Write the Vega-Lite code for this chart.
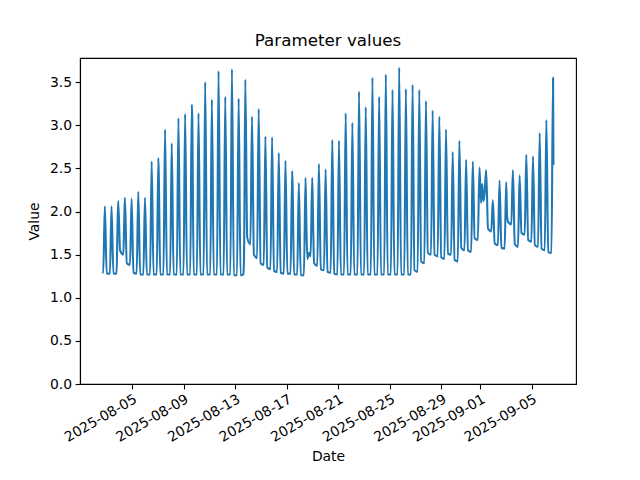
{
  "$schema": "https://vega.github.io/schema/vega-lite/v6.json",
  "width": 496,
  "height": 326,
  "autosize": {"type": "none"},
  "padding": {"left": 80, "top": 58, "right": 64, "bottom": 96},
  "background": "white",
  "title": {"text": "Parameter values", "fontSize": 16.7, "font": "DejaVu Sans", "fontWeight": "normal", "color": "black", "anchor": "middle", "offset": 8},
  "data": {"values": [
    {"date":"2025-08-02T17:20","value":1.30},
    {"date":"2025-08-02T18:36","value":1.29},
    {"date":"2025-08-02T21:36","value":2.06},
    {"date":"2025-08-03T01:06","value":1.28},
    {"date":"2025-08-03T07:03","value":1.28},
    {"date":"2025-08-03T10:03","value":2.06},
    {"date":"2025-08-03T13:33","value":1.28},
    {"date":"2025-08-03T19:30","value":1.28},
    {"date":"2025-08-03T21:00","value":1.76},
    {"date":"2025-08-03T22:30","value":2.12},
    {"date":"2025-08-04T02:00","value":1.55},
    {"date":"2025-08-04T07:57","value":1.50},
    {"date":"2025-08-04T09:27","value":1.82},
    {"date":"2025-08-04T10:57","value":2.16},
    {"date":"2025-08-04T14:27","value":1.40},
    {"date":"2025-08-04T20:24","value":1.38},
    {"date":"2025-08-04T23:24","value":2.15},
    {"date":"2025-08-05T02:54","value":1.29},
    {"date":"2025-08-05T08:51","value":1.28},
    {"date":"2025-08-05T11:51","value":2.23},
    {"date":"2025-08-05T15:21","value":1.27},
    {"date":"2025-08-05T21:18","value":1.27},
    {"date":"2025-08-06T00:18","value":2.16},
    {"date":"2025-08-06T03:48","value":1.27},
    {"date":"2025-08-06T09:45","value":1.27},
    {"date":"2025-08-06T12:45","value":2.58},
    {"date":"2025-08-06T16:15","value":1.27},
    {"date":"2025-08-06T22:12","value":1.27},
    {"date":"2025-08-07T01:12","value":2.62},
    {"date":"2025-08-07T02:12","value":2.35},
    {"date":"2025-08-07T04:42","value":1.27},
    {"date":"2025-08-07T10:39","value":1.27},
    {"date":"2025-08-07T13:39","value":2.95},
    {"date":"2025-08-07T17:09","value":1.27},
    {"date":"2025-08-07T23:06","value":1.27},
    {"date":"2025-08-08T02:06","value":2.79},
    {"date":"2025-08-08T05:36","value":1.27},
    {"date":"2025-08-08T11:33","value":1.27},
    {"date":"2025-08-08T14:33","value":3.08},
    {"date":"2025-08-08T18:03","value":1.27},
    {"date":"2025-08-09T00:00","value":1.27},
    {"date":"2025-08-09T03:00","value":3.13},
    {"date":"2025-08-09T06:30","value":1.27},
    {"date":"2025-08-09T12:27","value":1.27},
    {"date":"2025-08-09T15:27","value":3.24},
    {"date":"2025-08-09T16:15","value":3.10},
    {"date":"2025-08-09T18:57","value":1.27},
    {"date":"2025-08-10T00:54","value":1.27},
    {"date":"2025-08-10T03:54","value":3.14},
    {"date":"2025-08-10T07:24","value":1.27},
    {"date":"2025-08-10T13:21","value":1.27},
    {"date":"2025-08-10T16:21","value":3.50},
    {"date":"2025-08-10T19:51","value":1.27},
    {"date":"2025-08-11T01:48","value":1.27},
    {"date":"2025-08-11T04:48","value":3.30},
    {"date":"2025-08-11T08:18","value":1.27},
    {"date":"2025-08-11T14:15","value":1.27},
    {"date":"2025-08-11T17:15","value":3.63},
    {"date":"2025-08-11T20:45","value":1.27},
    {"date":"2025-08-12T02:42","value":1.27},
    {"date":"2025-08-12T05:42","value":3.33},
    {"date":"2025-08-12T09:12","value":1.27},
    {"date":"2025-08-12T15:09","value":1.27},
    {"date":"2025-08-12T18:09","value":3.65},
    {"date":"2025-08-12T21:39","value":1.26},
    {"date":"2025-08-13T03:36","value":1.26},
    {"date":"2025-08-13T06:36","value":3.31},
    {"date":"2025-08-13T10:06","value":1.26},
    {"date":"2025-08-13T15:30","value":1.27},
    {"date":"2025-08-13T16:40","value":1.48},
    {"date":"2025-08-13T19:03","value":3.53},
    {"date":"2025-08-13T22:33","value":1.70},
    {"date":"2025-08-14T04:30","value":1.62},
    {"date":"2025-08-14T07:30","value":3.10},
    {"date":"2025-08-14T11:00","value":1.50},
    {"date":"2025-08-14T16:57","value":1.46},
    {"date":"2025-08-14T19:57","value":3.19},
    {"date":"2025-08-14T23:27","value":1.40},
    {"date":"2025-08-15T05:24","value":1.38},
    {"date":"2025-08-15T08:24","value":2.87},
    {"date":"2025-08-15T11:54","value":1.35},
    {"date":"2025-08-15T17:51","value":1.33},
    {"date":"2025-08-15T20:51","value":2.86},
    {"date":"2025-08-16T00:21","value":1.31},
    {"date":"2025-08-16T06:18","value":1.30},
    {"date":"2025-08-16T09:18","value":2.68},
    {"date":"2025-08-16T12:48","value":1.29},
    {"date":"2025-08-16T18:45","value":1.28},
    {"date":"2025-08-16T21:45","value":2.59},
    {"date":"2025-08-17T01:15","value":1.28},
    {"date":"2025-08-17T07:12","value":1.28},
    {"date":"2025-08-17T10:12","value":2.47},
    {"date":"2025-08-17T11:12","value":2.25},
    {"date":"2025-08-17T13:42","value":1.27},
    {"date":"2025-08-17T19:39","value":1.27},
    {"date":"2025-08-17T22:39","value":2.33},
    {"date":"2025-08-18T02:09","value":1.26},
    {"date":"2025-08-18T08:06","value":1.26},
    {"date":"2025-08-18T11:06","value":2.39},
    {"date":"2025-08-18T12:36","value":1.88},
    {"date":"2025-08-18T14:36","value":1.45},
    {"date":"2025-08-18T17:30","value":1.52},
    {"date":"2025-08-18T20:33","value":1.48},
    {"date":"2025-08-18T23:33","value":2.39},
    {"date":"2025-08-19T01:03","value":1.92},
    {"date":"2025-08-19T03:03","value":1.40},
    {"date":"2025-08-19T09:00","value":1.37},
    {"date":"2025-08-19T12:00","value":2.55},
    {"date":"2025-08-19T15:30","value":1.33},
    {"date":"2025-08-19T21:27","value":1.32},
    {"date":"2025-08-20T00:27","value":2.49},
    {"date":"2025-08-20T03:57","value":1.30},
    {"date":"2025-08-20T09:54","value":1.29},
    {"date":"2025-08-20T12:54","value":2.83},
    {"date":"2025-08-20T16:24","value":1.28},
    {"date":"2025-08-20T22:21","value":1.27},
    {"date":"2025-08-21T01:21","value":2.82},
    {"date":"2025-08-21T04:51","value":1.27},
    {"date":"2025-08-21T10:48","value":1.27},
    {"date":"2025-08-21T13:48","value":3.14},
    {"date":"2025-08-21T17:18","value":1.27},
    {"date":"2025-08-21T23:15","value":1.27},
    {"date":"2025-08-22T02:15","value":3.03},
    {"date":"2025-08-22T05:45","value":1.27},
    {"date":"2025-08-22T11:42","value":1.27},
    {"date":"2025-08-22T14:42","value":3.39},
    {"date":"2025-08-22T18:12","value":1.27},
    {"date":"2025-08-23T00:09","value":1.27},
    {"date":"2025-08-23T03:09","value":3.21},
    {"date":"2025-08-23T06:39","value":1.27},
    {"date":"2025-08-23T12:36","value":1.27},
    {"date":"2025-08-23T15:36","value":3.55},
    {"date":"2025-08-23T19:06","value":1.27},
    {"date":"2025-08-24T01:03","value":1.27},
    {"date":"2025-08-24T04:03","value":3.33},
    {"date":"2025-08-24T07:33","value":1.27},
    {"date":"2025-08-24T13:30","value":1.27},
    {"date":"2025-08-24T16:30","value":3.59},
    {"date":"2025-08-24T20:00","value":1.27},
    {"date":"2025-08-25T01:57","value":1.27},
    {"date":"2025-08-25T04:57","value":3.41},
    {"date":"2025-08-25T08:27","value":1.27},
    {"date":"2025-08-25T14:24","value":1.27},
    {"date":"2025-08-25T17:24","value":3.67},
    {"date":"2025-08-25T20:54","value":1.27},
    {"date":"2025-08-26T02:51","value":1.27},
    {"date":"2025-08-26T05:51","value":3.42},
    {"date":"2025-08-26T09:21","value":1.27},
    {"date":"2025-08-26T15:18","value":1.27},
    {"date":"2025-08-26T18:18","value":3.47},
    {"date":"2025-08-26T21:48","value":1.32},
    {"date":"2025-08-27T03:45","value":1.30},
    {"date":"2025-08-27T06:45","value":3.41},
    {"date":"2025-08-27T10:15","value":1.42},
    {"date":"2025-08-27T16:12","value":1.40},
    {"date":"2025-08-27T19:12","value":3.28},
    {"date":"2025-08-27T22:42","value":1.52},
    {"date":"2025-08-28T04:39","value":1.50},
    {"date":"2025-08-28T07:39","value":3.17},
    {"date":"2025-08-28T11:09","value":1.50},
    {"date":"2025-08-28T17:06","value":1.48},
    {"date":"2025-08-28T20:06","value":3.10},
    {"date":"2025-08-28T23:36","value":1.47},
    {"date":"2025-08-29T05:33","value":1.45},
    {"date":"2025-08-29T08:33","value":2.95},
    {"date":"2025-08-29T12:03","value":1.51},
    {"date":"2025-08-29T18:00","value":1.50},
    {"date":"2025-08-29T21:00","value":2.69},
    {"date":"2025-08-30T00:30","value":1.44},
    {"date":"2025-08-30T06:27","value":1.42},
    {"date":"2025-08-30T09:27","value":2.82},
    {"date":"2025-08-30T12:57","value":1.58},
    {"date":"2025-08-30T18:54","value":1.55},
    {"date":"2025-08-30T21:54","value":2.60},
    {"date":"2025-08-31T01:24","value":1.55},
    {"date":"2025-08-31T07:21","value":1.53},
    {"date":"2025-08-31T10:21","value":2.58},
    {"date":"2025-08-31T13:51","value":1.69},
    {"date":"2025-08-31T19:48","value":1.67},
    {"date":"2025-08-31T22:48","value":2.51},
    {"date":"2025-09-01T01:48","value":2.10},
    {"date":"2025-09-01T04:00","value":2.32},
    {"date":"2025-09-01T06:00","value":2.12},
    {"date":"2025-09-01T08:15","value":2.20},
    {"date":"2025-09-01T11:15","value":2.48},
    {"date":"2025-09-01T14:45","value":1.80},
    {"date":"2025-09-01T20:42","value":1.77},
    {"date":"2025-09-01T23:42","value":2.13},
    {"date":"2025-09-02T03:12","value":1.63},
    {"date":"2025-09-02T09:09","value":1.61},
    {"date":"2025-09-02T12:09","value":2.36},
    {"date":"2025-09-02T15:39","value":1.58},
    {"date":"2025-09-02T21:36","value":1.57},
    {"date":"2025-09-03T00:36","value":2.34},
    {"date":"2025-09-03T02:06","value":1.96},
    {"date":"2025-09-03T04:06","value":1.88},
    {"date":"2025-09-03T10:03","value":1.85},
    {"date":"2025-09-03T13:03","value":2.48},
    {"date":"2025-09-03T16:33","value":1.62},
    {"date":"2025-09-03T22:30","value":1.59},
    {"date":"2025-09-04T01:30","value":2.42},
    {"date":"2025-09-04T05:00","value":1.75},
    {"date":"2025-09-04T10:57","value":1.73},
    {"date":"2025-09-04T13:57","value":2.66},
    {"date":"2025-09-04T17:27","value":1.67},
    {"date":"2025-09-04T23:24","value":1.65},
    {"date":"2025-09-05T02:24","value":2.64},
    {"date":"2025-09-05T05:54","value":1.61},
    {"date":"2025-09-05T11:51","value":1.59},
    {"date":"2025-09-05T14:51","value":2.91},
    {"date":"2025-09-05T18:21","value":1.57},
    {"date":"2025-09-06T00:18","value":1.55},
    {"date":"2025-09-06T03:18","value":3.06},
    {"date":"2025-09-06T06:48","value":1.53},
    {"date":"2025-09-06T12:45","value":1.52},
    {"date":"2025-09-06T15:45","value":3.55},
    {"date":"2025-09-06T16:30","value":2.54}
  ]},
  "mark": {"type": "line", "color": "#1f77b4", "strokeWidth": 2.08, "clip": true, "interpolate": "monotone"},
  "encoding": {
    "x": {
      "field": "date", "type": "temporal", "title": "Date",
      "scale": {"domain": [{"year": 2025, "month": 7, "date": 31, "hours": 23, "minutes": 23}, {"year": 2025, "month": 9, "date": 8, "hours": 10, "minutes": 27}], "nice": false},
      "axis": {
        "values": [
          {"year": 2025, "month": 8, "date": 5},
          {"year": 2025, "month": 8, "date": 9},
          {"year": 2025, "month": 8, "date": 13},
          {"year": 2025, "month": 8, "date": 17},
          {"year": 2025, "month": 8, "date": 21},
          {"year": 2025, "month": 8, "date": 25},
          {"year": 2025, "month": 8, "date": 29},
          {"year": 2025, "month": 9, "date": 1},
          {"year": 2025, "month": 9, "date": 5}
        ],
        "format": "%Y-%m-%d",
        "labelAngle": -30,
        "labelAlign": "right",
        "labelBaseline": "top",
        "labelPadding": 3,
        "labelOverlap": false,
        "labelFlush": false,
        "titlePadding": 5
      }
    },
    "y": {
      "field": "value", "type": "quantitative", "title": "Value",
      "scale": {"domain": [0, 3.78], "nice": false, "zero": false},
      "axis": {
        "values": [0, 0.5, 1, 1.5, 2, 2.5, 3, 3.5],
        "format": ".1f",
        "labelPadding": 3.5,
        "titlePadding": 8
      }
    }
  },
  "config": {
    "font": "DejaVu Sans",
    "view": {"stroke": "black", "strokeWidth": 1.1},
    "axis": {
      "grid": false,
      "domainColor": "black",
      "domainWidth": 1.1,
      "tickColor": "black",
      "tickWidth": 1.1,
      "tickSize": 4.9,
      "labelColor": "black",
      "titleColor": "black",
      "labelFont": "DejaVu Sans",
      "titleFont": "DejaVu Sans",
      "labelFontSize": 13.9,
      "titleFontSize": 13.9,
      "titleFontWeight": "normal"
    }
  }
}
